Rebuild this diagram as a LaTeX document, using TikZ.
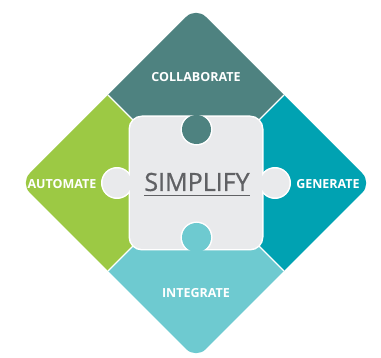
\documentclass[tikz,border=0pt]{standalone}
\usepackage{fontspec}
\setmainfont{Open Sans}
\newfontfamily\semifont[FakeBold=0.8]{Open Sans}
\definecolor{collabcol}{HTML}{4E8280}
\definecolor{autocol}{HTML}{9CC944}
\definecolor{gencol}{HTML}{00A2B2}
\definecolor{integcol}{HTML}{6ECAD0}
\definecolor{simplecol}{HTML}{E9EAEC}
\definecolor{simpletext}{HTML}{606164}

\begin{document}
\begin{tikzpicture}[x=1pt,y=-1pt,
    partlabel/.style={text=white, font=\bfseries\fontsize{12.5}{14}\selectfont, inner sep=0pt},
    piece/.style={rounded corners=14pt}]
    \useasboundingbox (0,0) rectangle (381,358);
    \coordinate (c) at (196,183);
    \coordinate (nw) at (-4,-17);
    \coordinate (ne) at (396,-17);
    \coordinate (se) at (396,383);
    \coordinate (sw) at (-4,383);
    % vier Teile der Raute
    \foreach \colr/\p/\q in
    {
      collabcol/nw/ne,
      gencol/ne/se,
      integcol/se/sw,
      autocol/sw/nw%
    }
    {
      \begin{scope}
        \clip (c) -- (\p) -- (\q) -- cycle;
        \fill[\colr, piece] (196,7) -- (372,183) -- (196,359) -- (20,183) -- cycle;
      \end{scope}
    };
    \foreach \m in {(108,95),(284,95),(284,271),(108,271)}
    {
      \draw[white, line width=1.2pt] (c) -- \m;
    };
    % Puzzleteil in der Mitte
    \draw[white, line width=3pt, rounded corners=12pt] (130,117) rectangle (262,249);
    \draw[white, line width=3pt] (117,183) circle (14.5) (275,183) circle (14.5);
    \fill[simplecol, rounded corners=12pt] (130,117) rectangle (262,249);
    \fill[simplecol] (117,183) circle (14.5) (275,183) circle (14.5);
    \foreach \colr/\y in {collabcol/129.5, integcol/237.5}
    {
      \begin{scope}
        \clip[rounded corners=12pt] (130,117) rectangle (262,249);
        \draw[white, line width=3pt] (196.5,\y) circle (14.5);
      \end{scope}
      \fill[\colr] (196.5,\y) circle (14.5);
    };
    \node[partlabel] (collab) at (196,77) {COLLABORATE};
    \node[partlabel] (auto) at (62,184) {AUTOMATE};
    \node[partlabel] (gen) at (328,184) {GENERATE};
    \node[partlabel] (integ) at (196,293) {INTEGRATE};
    \node[text=simpletext, font=\semifont\fontsize{25}{28}\selectfont, inner sep=0pt] (simple) at (197,182) {SIMPLIFY};
    \draw[simpletext, line width=0.7pt] ([yshift=-4pt]simple.base west) -- ([yshift=-4pt]simple.base east);
  \end{tikzpicture}
\end{document}
